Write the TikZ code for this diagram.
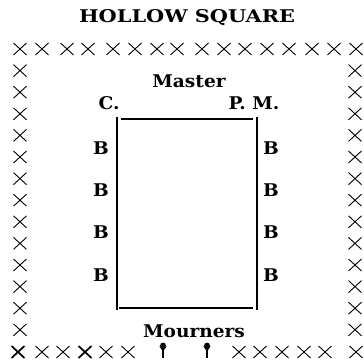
\documentclass[tikz,border=0pt]{standalone}
\usepackage{fontspec}
\newfontfamily\lblfont{DejaVu Serif}
\newcommand\wide[1]{\scalebox{1.06}[1]{#1}}
\begin{document}
\begin{tikzpicture}[x=1pt,y=-1pt,
  lbl/.style={font=\lblfont\bfseries\fontsize{17.5}{20}\selectfont, inner sep=0pt, anchor=base},
  cr/.style={line width=0.9pt},
  crb/.style={line width=1.7pt},
  edge/.style={line width=1.1pt},
  xm/.pic={\draw[cr] (-6.5,-6) -- (6.5,6) (-6.5,6) -- (6.5,-6);},
  xmb/.pic={\draw[crb] (-6.5,-6) -- (6.5,6) (-6.5,6) -- (6.5,-6);},
  dag/.pic={\fill (0,-4.5) circle (2.9); \fill (-3.6,-3.6) -- (3.6,-3.6) -- (0,1.5) -- cycle; \draw[line width=1.4pt] (0,-2) -- (0,7.5);}]
\useasboundingbox (0,0) rectangle (364,361);
% title and labels
\node[lbl] (title) at (187,23) {\scalebox{1.19}[1]{HOLLOW SQUARE}};
\node[lbl] (master) at (189,88) {\wide{Master}};
\node[lbl] (c) at (109,110) {\wide{C.}};
\node[lbl] (pm) at (254,110) {\wide{P. M.}};
\node[lbl] (bl1) at (101,154) {\wide{B}};
\node[lbl] (bl2) at (101,196) {\wide{B}};
\node[lbl] (bl3) at (101,238) {\wide{B}};
\node[lbl] (bl4) at (101,281) {\wide{B}};
\node[lbl] (br1) at (271,154) {\wide{B}};
\node[lbl] (br2) at (271,196) {\wide{B}};
\node[lbl] (br3) at (271,238) {\wide{B}};
\node[lbl] (br4) at (271,281) {\wide{B}};
\node[lbl] (mourners) at (194,337) {\wide{Mourners}};
% inner square
\coordinate (tl) at (121,119);
\coordinate (tr) at (253,119);
\coordinate (bl) at (119,308);
\coordinate (br) at (253,308);
\coordinate (lt) at (117,117);
\coordinate (lb) at (117,310);
\coordinate (rt) at (257,117);
\coordinate (rb) at (257,310);
\draw[edge] (tl) -- (tr);
\draw[edge] (bl) -- (br);
\draw[edge] (lt) -- (lb);
\draw[edge] (rt) -- (rb);
% outer crosses
\foreach \x in {20,42,67,88,113,135,157,177,202,224,245,267,289,312,334,356}
  \pic at (\x,49) {xm};
\foreach \i in {1,...,13} {
  \pic at (20,{49+21.6*\i}) {xm};
  \pic at (355,{49+21.6*\i}) {xm};
}
\pic at (18,352) {xmb};
\pic at (85,352) {xmb};
\foreach \x in {42,63,106,128,239,260,282,304,325,356}
  \pic at (\x,352) {xm};
\pic at (163,350) {dag};
\pic at (207,350) {dag};
\end{tikzpicture}
\end{document}
